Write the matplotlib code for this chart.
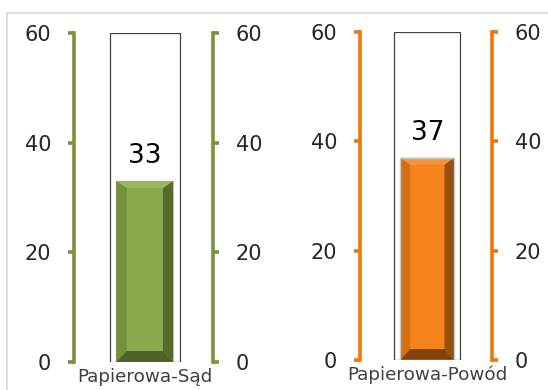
import numpy as np
import matplotlib
matplotlib.use("Agg")
import matplotlib.pyplot as plt
from matplotlib.patches import Polygon
from matplotlib.lines import Line2D

# data
categories = ["Papierowa-Sąd", "Papierowa-Powód"]
values = [33, 37]
axis_max = 60
ticks = [0, 20, 40, 60]

# style per panel: axis colour and bevel shades (main, top, left, right, bottom)
axis_colors = ["#77933C", "#EC780D"]
shades = [
    ["#8AA84C", "#9AB85A", "#74903D", "#556A2C", "#4E6128"],
    ["#F4831A", "#F7923A", "#D86E12", "#97500F", "#844409"],
]
bar_edges = ["none", "#A8D4E0"]
# axes rectangles in figure fractions (left, bottom, width, height)
rects = [
    [74 / 548, 1 - 362 / 390, 139 / 548, 329 / 390],
    [360 / 548, 1 - 360 / 390, 132 / 548, 328 / 390],
]


def panel(ax, name, v, acol, sh, edge):
    box_w, fill_w = 1.0, 0.82
    bx, bt, bb = 0.15, 1.3, 2.0
    # thermometer outline
    ax.bar(0, axis_max, box_w, color="white", edgecolor="#404040", lw=0.9,
           zorder=1)
    # bevelled fill
    ax.bar(0, v, fill_w, color=sh[0], edgecolor="none", zorder=2)
    x0, x1 = -fill_w / 2, fill_w / 2
    polys = [
        ([(x0, v), (x1, v), (x1 - bx, v - bt), (x0 + bx, v - bt)], sh[1]),
        ([(x0, 0), (x0, v), (x0 + bx, v - bt), (x0 + bx, bb)], sh[2]),
        ([(x1, 0), (x1, v), (x1 - bx, v - bt), (x1 - bx, bb)], sh[3]),
        ([(x0, 0), (x1, 0), (x1 - bx, bb), (x0 + bx, bb)], sh[4]),
    ]
    for pts, c in polys:
        ax.add_patch(Polygon(pts, closed=True, facecolor=c, edgecolor="none",
                             zorder=3))
    if edge != "none":
        ax.bar(0, v, fill_w, color="none", edgecolor=edge, lw=1.0, zorder=4)
    ax.annotate(str(v), (0, v), xytext=(0, 18), textcoords="offset points",
                ha="center", va="center", fontsize=19, color="black")

    ax.set_xlim(-1.02, 0.98)
    ax.set_ylim(0, axis_max)
    ax.set_yticks(ticks)
    for side in ["top", "bottom"]:
        ax.spines[side].set_visible(False)
    for side in ["left", "right"]:
        ax.spines[side].set_color(acol)
        ax.spines[side].set_linewidth(2.6)
    ax.tick_params(axis="y", left=True, right=True, labelleft=True,
                   labelright=True, direction="out", length=4.5, width=2.6,
                   color=acol, pad=12, labelsize=15, labelcolor="#262626")
    ax.set_xticks([0])
    ax.set_xticklabels([name])
    ax.tick_params(axis="x", length=0, pad=4, labelsize=13.2,
                   labelcolor="#404040")
    ax.patch.set_visible(False)


fig = plt.figure(figsize=(5.48, 3.90), dpi=100)
for i in range(len(categories)):
    ax = fig.add_axes(rects[i])
    panel(ax, categories[i], values[i], axis_colors[i], shades[i],
          bar_edges[i])

# panel frame lines
fig.add_artist(Line2D([7 / 548, 1], [1 - 13 / 390, 1 - 13 / 390],
                      color="#D9D9D9", lw=1.2))
fig.add_artist(Line2D([7 / 548, 7 / 548], [0, 1 - 13 / 390],
                      color="#D9D9D9", lw=1.2))

fig.savefig("out.png", dpi=100)
